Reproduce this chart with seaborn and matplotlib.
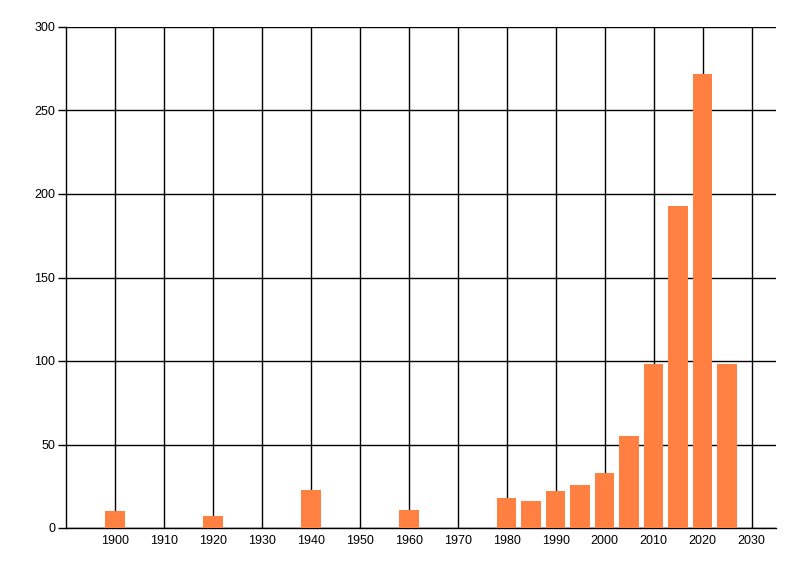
import matplotlib
matplotlib.use("Agg")
import matplotlib.pyplot as plt
import seaborn as sns
import pandas as pd

# values
years = [1900, 1920, 1940, 1960, 1980, 1985, 1990, 1995, 2000, 2005, 2010, 2015, 2020, 2025]
counts = [10, 7, 23, 11, 18, 16, 22, 26, 33, 55, 98, 193, 272, 98]
x_ticks = list(range(1900, 2031, 10))
y_ticks = [0, 50, 100, 150, 200, 250, 300]

bar_color = "#FF8040"

sns.set_style("white")
plt.rcParams["font.family"] = ["Liberation Sans", "DejaVu Sans"]

df = pd.DataFrame({"year": years, "count": counts})

fig = plt.figure(figsize=(8, 5.76), dpi=100)
ax = fig.add_axes([66 / 800, 1 - 528 / 576, 710 / 800, 501 / 576])

sns.barplot(data=df, x="year", y="count", native_scale=True, width=0.8,
            color=bar_color, saturation=1, linewidth=0, ax=ax, zorder=3)

ax.set_xlim(1890, 2035)
ax.set_ylim(0, 300)
ax.set_xticks(x_ticks)
ax.set_yticks(y_ticks)
ax.set_xlabel("")
ax.set_ylabel("")

ax.grid(True, color="black", linewidth=1.0)
ax.set_axisbelow(True)

for side in ["top", "right"]:
    ax.spines[side].set_visible(False)
for side in ["left", "bottom"]:
    ax.spines[side].set_color("black")
    ax.spines[side].set_linewidth(1.0)

ax.tick_params(axis="y", left=True, length=5.8, width=1, color="black", pad=2,
               labelsize=9, labelcolor="black")
ax.tick_params(axis="x", bottom=False, length=0, pad=5, labelsize=9, labelcolor="black")

fig.savefig("out.png", dpi=100)
